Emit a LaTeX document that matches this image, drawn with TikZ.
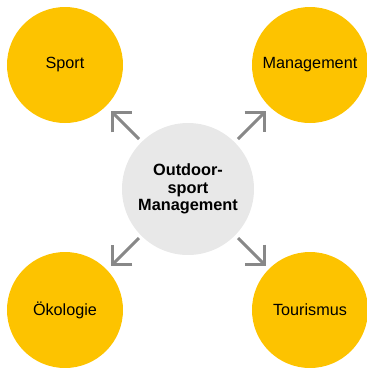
\documentclass[tikz,border=0pt]{standalone}
\usepackage{fontspec}
\setmainfont{Liberation Sans}
\usetikzlibrary{arrows.meta}
\definecolor{yel}{HTML}{FDC300}
\definecolor{cgray}{HTML}{E8E8E8}
\definecolor{agray}{HTML}{888888}
\begin{document}
\begin{tikzpicture}[x=1pt,y=-1pt,
  outer/.style={circle,fill=yel,minimum size=116pt,inner sep=0pt,font=\fontsize{16.2}{17}\selectfont},
  core/.style={circle,fill=cgray,minimum size=132pt,inner sep=0pt,align=center,font=\fontsize{16.3}{17.3}\selectfont\bfseries},
  arr/.style={draw=agray,line width=3pt,-{Straight Barb[length=14pt,width=28pt,sharp]}}]
\useasboundingbox (0,0) rectangle (367,368);
\node[outer] (sport) at (65,65) {Sport};
\node[outer] (mgmt) at (310,65) {Management};
\node[outer] (oeko) at (65,310) {Ökologie};
\node[outer] (tour) at (310,310) {Tourismus};
\node[core] (c) at (188,189) {Outdoor-\\sport\\Management};
\coordinate (s1) at (139,139); \coordinate (t1) at (111,111);
\coordinate (s2) at (238,139); \coordinate (t2) at (266,111);
\coordinate (s3) at (139,238); \coordinate (t3) at (111,266);
\coordinate (s4) at (238,238); \coordinate (t4) at (266,266);
\draw[arr] (s1) -- (t1);
\draw[arr] (s2) -- (t2);
\draw[arr] (s3) -- (t3);
\draw[arr] (s4) -- (t4);
\end{tikzpicture}
\end{document}
